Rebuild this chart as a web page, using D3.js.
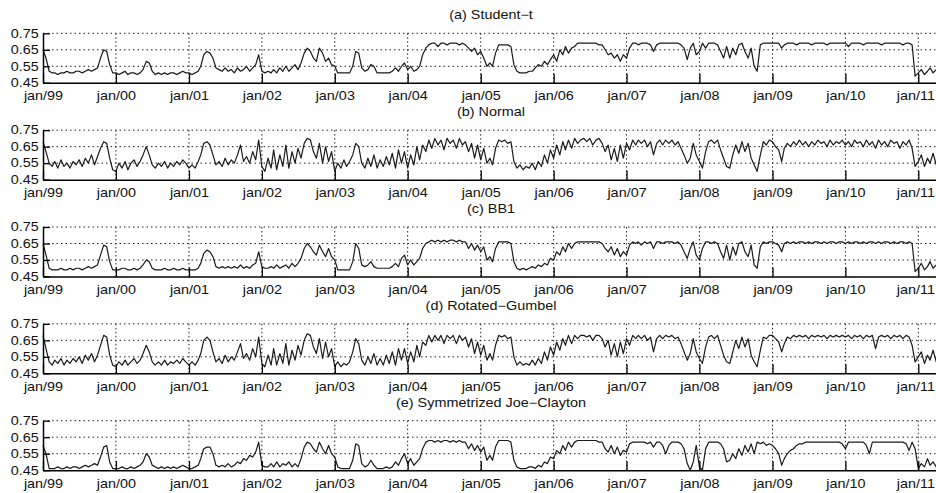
<!DOCTYPE html>
<html>
<head>
<meta charset="utf-8">
<script src="https://cdn.jsdelivr.net/npm/d3@7"></script>
<style>
  body { margin: 0; background: #fff; }
  svg { display: block; }
  text { font-family: "Liberation Sans", Arial, sans-serif; fill: #111; }
</style>
</head>
<body>
<div id="chart"></div>
<script>
// tick labels and panel titles
const yearLabels = ["jan/99","jan/00","jan/01","jan/02","jan/03","jan/04","jan/05","jan/06","jan/07","jan/08","jan/09","jan/10","jan/11"];
const yTicks = [0.45, 0.55, 0.65, 0.75];
const panelTitles = ["(a) Student\u2212t", "(b) Normal", "(c) BB1", "(d) Rotated\u2212Gumbel", "(e) Symmetrized Joe\u2212Clayton"];

// series, one value per half month (1st and 16th), jan/99 .. apr/11
const studentT = [
  .65,.60,.52,.51,.51,.50,.51,.51,.52,.51,.51,.52,.52,.51,.52,.53,.52,.53,.54,.60,.65,.64,.56,.51,
  .51,.50,.51,.52,.50,.51,.51,.50,.51,.53,.58,.57,.52,.50,.51,.50,.51,.50,.51,.51,.50,.51,.52,.51,
  .51,.50,.51,.52,.55,.62,.64,.63,.60,.54,.53,.52,.54,.52,.53,.51,.54,.52,.53,.55,.52,.54,.56,.62,
  .52,.51,.52,.51,.53,.51,.54,.52,.55,.52,.54,.56,.53,.57,.63,.66,.64,.60,.58,.66,.63,.58,.60,.56,
  .55,.51,.51,.51,.51,.51,.55,.64,.63,.54,.52,.53,.56,.55,.51,.51,.51,.51,.51,.52,.54,.52,.55,.57,
  .53,.55,.52,.53,.55,.62,.66,.68,.69,.69,.67,.69,.69,.68,.69,.69,.69,.68,.69,.68,.66,.64,.66,.62,
  .64,.60,.55,.57,.55,.63,.68,.68,.68,.68,.67,.56,.52,.51,.51,.51,.52,.52,.54,.56,.55,.58,.56,.59,
  .62,.58,.65,.62,.67,.63,.66,.67,.69,.69,.69,.69,.69,.69,.69,.68,.68,.65,.62,.63,.60,.62,.58,.62,
  .60,.66,.69,.69,.68,.69,.69,.69,.68,.64,.68,.69,.69,.69,.69,.69,.69,.69,.68,.66,.59,.66,.69,.62,
  .64,.69,.66,.69,.69,.69,.68,.64,.60,.67,.60,.66,.62,.68,.69,.64,.60,.66,.55,.52,.68,.69,.69,.69,
  .69,.69,.69,.66,.68,.69,.69,.69,.68,.69,.69,.69,.69,.68,.69,.69,.69,.69,.68,.69,.69,.69,.69,.69,
  .69,.67,.69,.69,.69,.69,.68,.69,.69,.69,.69,.69,.68,.69,.69,.69,.69,.69,.69,.68,.69,.69,.68,.49,
  .51,.53,.50,.52,.54,.51,.53,.52
];
const normal = [
  .68,.62,.55,.53,.56,.52,.57,.53,.55,.52,.56,.54,.57,.53,.58,.55,.60,.54,.59,.64,.68,.67,.58,.51,
  .50,.55,.52,.56,.51,.55,.57,.53,.56,.60,.65,.60,.54,.52,.55,.53,.56,.52,.55,.53,.56,.54,.57,.55,
  .52,.54,.52,.56,.60,.67,.68,.66,.60,.54,.56,.53,.58,.54,.57,.55,.60,.66,.56,.59,.55,.62,.57,.69,
  .53,.50,.58,.52,.63,.51,.60,.53,.66,.52,.62,.55,.64,.58,.67,.70,.69,.62,.58,.67,.55,.65,.56,.62,
  .50,.55,.52,.57,.53,.56,.60,.67,.65,.55,.52,.58,.53,.60,.52,.57,.53,.59,.54,.61,.52,.63,.55,.62,
  .52,.60,.54,.65,.57,.66,.62,.69,.64,.70,.66,.69,.63,.70,.67,.69,.64,.70,.66,.68,.62,.67,.58,.66,
  .57,.64,.55,.58,.54,.64,.69,.68,.69,.67,.68,.56,.52,.54,.51,.53,.52,.55,.51,.56,.53,.60,.55,.63,
  .58,.66,.60,.68,.63,.69,.64,.70,.67,.69,.70,.68,.70,.66,.69,.70,.67,.62,.66,.57,.64,.56,.66,.58,
  .67,.63,.69,.66,.69,.67,.69,.65,.68,.60,.67,.69,.66,.69,.67,.69,.66,.68,.64,.60,.55,.58,.67,.60,
  .56,.52,.62,.68,.69,.67,.69,.63,.58,.53,.52,.60,.66,.61,.68,.62,.67,.58,.54,.50,.60,.68,.66,.69,
  .68,.65,.63,.56,.64,.67,.65,.68,.66,.69,.66,.68,.65,.68,.66,.69,.67,.68,.65,.69,.66,.68,.67,.69,
  .66,.68,.65,.69,.67,.68,.65,.69,.66,.68,.64,.69,.66,.68,.65,.69,.67,.68,.64,.68,.66,.69,.64,.53,
  .56,.60,.53,.58,.55,.61,.54,.57
];
const bb1 = [
  .65,.58,.50,.49,.49,.49,.50,.49,.49,.50,.49,.50,.50,.49,.50,.51,.50,.51,.52,.58,.64,.63,.54,.49,
  .49,.49,.50,.50,.49,.49,.50,.49,.50,.52,.55,.54,.50,.49,.49,.49,.50,.49,.49,.50,.49,.49,.50,.49,
  .49,.49,.49,.50,.53,.59,.61,.60,.57,.51,.50,.51,.50,.51,.50,.51,.50,.52,.50,.51,.50,.52,.53,.60,
  .51,.50,.50,.51,.50,.52,.50,.51,.52,.50,.53,.51,.53,.56,.62,.65,.63,.60,.58,.64,.60,.57,.62,.57,
  .55,.49,.49,.49,.49,.49,.54,.65,.62,.52,.51,.52,.54,.51,.50,.50,.50,.50,.50,.51,.53,.51,.56,.58,
  .52,.55,.52,.54,.56,.62,.65,.66,.67,.66,.67,.66,.67,.66,.67,.67,.66,.67,.66,.66,.62,.65,.61,.64,
  .60,.63,.55,.57,.54,.62,.66,.66,.66,.66,.65,.54,.50,.49,.50,.49,.50,.51,.50,.52,.51,.53,.52,.56,
  .55,.60,.58,.63,.60,.65,.62,.65,.66,.66,.66,.66,.66,.66,.66,.66,.65,.62,.60,.63,.58,.62,.57,.60,
  .58,.64,.66,.65,.66,.64,.66,.65,.66,.62,.66,.66,.65,.66,.66,.66,.65,.66,.64,.60,.56,.62,.66,.58,
  .55,.62,.66,.66,.65,.66,.65,.60,.56,.64,.55,.63,.58,.65,.66,.60,.57,.64,.52,.50,.63,.66,.65,.66,
  .66,.65,.64,.60,.65,.66,.65,.66,.65,.66,.66,.65,.66,.65,.66,.66,.65,.66,.65,.66,.66,.65,.66,.66,
  .65,.66,.65,.66,.66,.65,.66,.65,.66,.66,.65,.66,.65,.66,.66,.65,.66,.65,.66,.66,.65,.66,.65,.48,
  .50,.53,.49,.51,.54,.50,.52,.51
];
const rotGumbel = [
  .68,.60,.52,.50,.53,.51,.54,.50,.53,.51,.54,.52,.55,.51,.56,.53,.57,.52,.56,.62,.68,.67,.56,.50,
  .49,.52,.50,.53,.50,.52,.54,.51,.53,.57,.62,.58,.52,.50,.52,.50,.53,.50,.52,.51,.53,.51,.54,.52,
  .50,.52,.50,.53,.57,.65,.67,.65,.58,.52,.54,.51,.56,.52,.55,.53,.58,.63,.54,.57,.53,.60,.55,.67,
  .51,.49,.56,.50,.60,.50,.57,.51,.63,.50,.59,.53,.62,.56,.65,.69,.68,.61,.57,.66,.54,.64,.55,.60,
  .49,.52,.49,.51,.50,.52,.58,.66,.63,.53,.50,.55,.51,.57,.50,.54,.50,.56,.51,.58,.50,.60,.53,.60,
  .51,.58,.52,.62,.55,.64,.62,.68,.64,.68,.65,.68,.63,.68,.66,.68,.63,.68,.65,.67,.61,.66,.57,.64,
  .56,.62,.53,.57,.53,.62,.68,.67,.68,.66,.67,.55,.50,.52,.50,.51,.50,.53,.50,.54,.51,.58,.53,.61,
  .56,.64,.59,.66,.62,.68,.63,.68,.66,.68,.68,.67,.68,.65,.68,.68,.66,.61,.65,.56,.63,.55,.64,.57,
  .66,.62,.68,.66,.68,.66,.68,.65,.67,.58,.66,.68,.66,.68,.67,.68,.66,.67,.63,.58,.53,.57,.66,.58,
  .54,.51,.61,.67,.68,.66,.68,.62,.56,.52,.51,.58,.65,.60,.67,.61,.66,.56,.52,.49,.59,.67,.66,.68,
  .68,.66,.64,.58,.63,.67,.66,.68,.67,.68,.67,.68,.66,.68,.67,.68,.67,.68,.66,.68,.67,.68,.67,.68,
  .67,.68,.66,.68,.67,.68,.66,.68,.67,.68,.60,.67,.68,.67,.68,.66,.68,.67,.68,.66,.68,.67,.62,.52,
  .55,.58,.51,.56,.53,.59,.52,.55
];
const sjc = [
  .60,.55,.46,.46,.46,.47,.46,.46,.47,.46,.47,.47,.46,.47,.48,.47,.48,.49,.48,.53,.59,.60,.50,.46,
  .46,.46,.47,.46,.46,.47,.46,.47,.48,.50,.55,.53,.48,.47,.46,.47,.46,.47,.46,.47,.46,.47,.48,.47,
  .46,.46,.47,.48,.52,.58,.59,.59,.55,.48,.47,.48,.47,.49,.47,.48,.50,.49,.52,.51,.54,.53,.56,.62,
  .48,.47,.47,.49,.47,.50,.47,.49,.48,.50,.47,.49,.47,.52,.59,.62,.61,.58,.56,.62,.58,.55,.60,.55,
  .53,.47,.46,.46,.46,.46,.51,.61,.60,.49,.47,.48,.51,.48,.46,.46,.46,.47,.46,.47,.50,.48,.52,.55,
  .49,.52,.48,.50,.52,.58,.62,.63,.63,.62,.63,.62,.63,.63,.62,.63,.62,.63,.62,.62,.58,.61,.57,.60,
  .56,.59,.51,.54,.51,.59,.63,.63,.63,.63,.62,.51,.47,.46,.46,.46,.47,.47,.46,.48,.47,.50,.49,.53,
  .52,.57,.55,.60,.57,.62,.59,.62,.63,.63,.63,.63,.63,.63,.63,.62,.62,.58,.56,.60,.55,.59,.54,.57,
  .56,.61,.62,.62,.62,.62,.62,.61,.62,.59,.62,.62,.60,.55,.60,.62,.62,.62,.61,.58,.49,.45,.50,.60,
  .47,.45,.58,.62,.62,.62,.62,.61,.58,.50,.51,.55,.52,.58,.54,.60,.56,.61,.55,.62,.61,.62,.60,.61,
  .60,.58,.55,.48,.52,.55,.57,.58,.60,.61,.61,.62,.62,.62,.62,.62,.62,.62,.62,.62,.62,.62,.62,.61,
  .58,.62,.62,.62,.62,.62,.62,.60,.55,.62,.62,.62,.62,.62,.62,.62,.62,.62,.62,.62,.61,.57,.62,.58,
  .46,.49,.47,.52,.48,.50,.47,.49
];
const allSeries = [studentT, normal, bb1, rotGumbel, sjc];

const W = 936, H = 493;
const SX = 1.2;           // figure text is stretched horizontally
const LEFT = 43, RIGHT = 936;
const TOP0 = 33.3, STEP = 96.85, PH = 49.5;

const svg = d3.select("#chart").append("svg").attr("width", W).attr("height", H);

const yearDates = yearLabels.map((s, i) => new Date(1999 + i, 0, 1));
const x = d3.scaleTime().domain([yearDates[0], yearDates[12]]).range([LEFT, 918.3]);
x.domain([yearDates[0], x.invert(RIGHT)]).range([LEFT, RIGHT]);

// half-month sample dates
const sampleDates = d3.range(studentT.length).map(k =>
  new Date(1999 + Math.floor(k / 24), Math.floor((k % 24) / 2), (k % 2) ? 16 : 1));

allSeries.forEach((series, p) => {
  const top = TOP0 + p * STEP;
  const y = d3.scaleLinear().domain([0.45, 0.75]).range([top + PH, top]);
  const g = svg.append("g");

  // dotted grid
  g.selectAll("line.hg").data(yTicks.slice(1)).join("line")
    .attr("x1", LEFT).attr("x2", RIGHT)
    .attr("y1", d => y(d)).attr("y2", d => y(d))
    .attr("stroke", "#222").attr("stroke-width", 1)
    .attr("stroke-dasharray", "1.5,3");
  g.selectAll("line.vg").data(yearDates.slice(1)).join("line")
    .attr("x1", d => x(d)).attr("x2", d => x(d))
    .attr("y1", top).attr("y2", top + PH)
    .attr("stroke", "#222").attr("stroke-width", 1)
    .attr("stroke-dasharray", "1.5,2.5");

  // series line
  const line = d3.line().x((d, i) => x(sampleDates[i])).y(d => y(d));
  g.append("path").datum(series)
    .attr("d", line)
    .attr("fill", "none")
    .attr("stroke", "#1a1a1a")
    .attr("stroke-width", 1.2)
    .attr("stroke-linejoin", "round");

  // axes
  const xAxis = g.append("g").attr("transform", `translate(0,${top + PH})`)
    .call(d3.axisBottom(x).tickValues(yearDates).tickSizeInner(-9).tickSizeOuter(0)
      .tickPadding(9).tickFormat((d, i) => yearLabels[i]));
  const yAxis = g.append("g").attr("transform", `translate(${LEFT},0)`)
    .call(d3.axisLeft(y).tickValues(yTicks).tickSizeInner(-7).tickSizeOuter(0)
      .tickPadding(3.5).tickFormat(d3.format(".2f")));

  [xAxis, yAxis].forEach(a => {
    a.select(".domain").attr("stroke", "#000").attr("stroke-width", 1.5);
    a.selectAll(".tick line").attr("stroke", "#000").attr("stroke-width", 1.3);
    a.selectAll("text").attr("font-size", 12).attr("fill", "#111")
      .attr("font-family", "Liberation Sans, Arial, sans-serif");
  });
  xAxis.selectAll("text").attr("transform", `scale(${SX},1)`);
  // last label sits at the right edge of the figure
  xAxis.selectAll("text").filter((d, i) => i === yearLabels.length - 1).attr("dx", -2.5);
  yAxis.selectAll("text").attr("transform", `scale(${SX},1)`);

  // title
  svg.append("text")
    .attr("transform", `translate(491,${top - 14}) scale(${SX},1)`)
    .attr("text-anchor", "middle")
    .attr("font-size", 12)
    .text(panelTitles[p]);
});
</script>
</body>
</html>
